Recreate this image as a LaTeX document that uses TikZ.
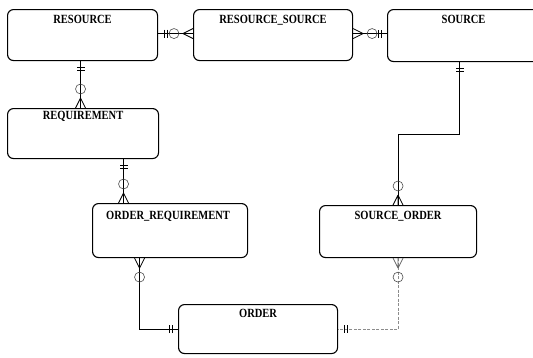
\documentclass[tikz,border=0pt]{standalone}
\usepackage{fontspec}
\setmainfont{Liberation Serif}
\usetikzlibrary{calc}
% entity names are set in a slightly narrowed bold serif
\newcommand\entname[1]{\scalebox{0.84}[1]{#1}}
\tikzset{
  entity/.style={draw=black, line width=1.1pt, rounded corners=6pt, inner sep=0pt, anchor=north west},
  title/.style={anchor=base, inner sep=0pt, font=\fontsize{12.5}{14}\selectfont\bfseries},
  rel/.style={draw=black, line width=0.7pt},
  faintrel/.style={draw=black!45, line width=0.7pt, dash pattern=on 3pt off 1.5pt},
  % one and only one: two bars across the line, next to the entity
  mandone/.pic={
    \draw[line width=0.8pt] (6,-4) -- (6,4) (9,-4) -- (9,4);
  },
  % zero or many: crow's foot at the entity, circle beyond it
  zeromany/.pic={
    \draw[line width=0.8pt] (10,0) -- (0,-5) (10,0) -- (0,0) (10,0) -- (0,5);
    \draw[line width=0.6pt, black!70] (19,0) circle (5);
  }
}
\begin{document}
\begin{tikzpicture}[x=1pt, y=-1pt]
\useasboundingbox (0,0) rectangle (533,357);

% entities
\node[entity, minimum width=150pt, minimum height=51pt] (res) at (7,9) {};
\node[entity, minimum width=159pt, minimum height=51pt] (rs) at (193,9) {};
\node[entity, minimum width=152pt, minimum height=52pt] (src) at (387,9) {};
\node[entity, minimum width=151pt, minimum height=50pt] (req) at (7,108) {};
\node[entity, minimum width=155pt, minimum height=54pt] (ordreq) at (92,203) {};
\node[entity, minimum width=157pt, minimum height=52pt] (srcord) at (319,205) {};
\node[entity, minimum width=159pt, minimum height=49pt] (ord) at (178,304) {};

% entity names
\node[title] (resT) at ([yshift=-14pt]res.north) {\entname{RESOURCE}};
\node[title] (rsT) at ([yshift=-14pt]rs.north) {\entname{RESOURCE\_SOURCE}};
\node[title] (srcT) at ([yshift=-14pt]src.north) {\entname{SOURCE}};
\node[title] (reqT) at ([yshift=-11pt]req.north) {\entname{REQUIREMENT}};
\node[title] (ordreqT) at ([yshift=-16pt,xshift=-2pt]ordreq.north) {\entname{ORDER\_REQUIREMENT}};
\node[title] (srcordT) at ([yshift=-14pt]srcord.north) {\entname{SOURCE\_ORDER}};
\node[title] (ordT) at ([yshift=-13pt]ord.north) {\entname{ORDER}};

% RESOURCE -- RESOURCE_SOURCE
\coordinate (a1) at ([yshift=1.5pt]res.east);
\coordinate (a2) at (a1 -| rs.west);
\draw[rel] (a1) -- (a2);
\pic at (a1) {mandone};
\pic[rotate=180] at (a2) {zeromany};

% RESOURCE_SOURCE -- SOURCE
\coordinate (b1) at ([yshift=1.5pt]rs.east);
\coordinate (b2) at (b1 -| src.west);
\draw[rel] (b1) -- (b2);
\pic at (b1) {zeromany};
\pic[rotate=180] at (b2) {mandone};

% RESOURCE -- REQUIREMENT
\coordinate (c1) at ([xshift=-2pt]res.south);
\coordinate (c2) at (c1 |- req.north);
\draw[rel] (c1) -- (c2);
\pic[rotate=-90] at (c1) {mandone};
\pic[rotate=90] at (c2) {zeromany};

% REQUIREMENT -- ORDER_REQUIREMENT
\coordinate (d1) at ([xshift=40.5pt]req.south);
\coordinate (d2) at (d1 |- ordreq.north);
\draw[rel] (d1) -- (d2);
\pic[rotate=-90] at (d1) {mandone};
\pic[rotate=90] at (d2) {zeromany};

% SOURCE -- SOURCE_ORDER
\coordinate (e1) at ([xshift=-4pt]src.south);
\coordinate (e2) at (srcord.north);
\draw[rel] (e1) -- ++(0,72) -| (e2);
\pic[rotate=-90] at (e1) {mandone};
\pic[rotate=90] at (e2) {zeromany};

% ORDER_REQUIREMENT -- ORDER
\coordinate (f1) at ([xshift=-30.5pt]ordreq.south);
\draw[rel] (f1) |- (ord.west);
\pic[rotate=-90] at (f1) {zeromany};
\pic[rotate=180] at (ord.west) {mandone};

% SOURCE_ORDER -- ORDER
\coordinate (g1) at (srcord.south);
\draw[faintrel] (g1) |- (ord.east);
\begin{scope}[black!60]
\pic[rotate=-90] at (g1) {zeromany};
\end{scope}
\pic at (ord.east) {mandone};
\end{tikzpicture}
\end{document}
